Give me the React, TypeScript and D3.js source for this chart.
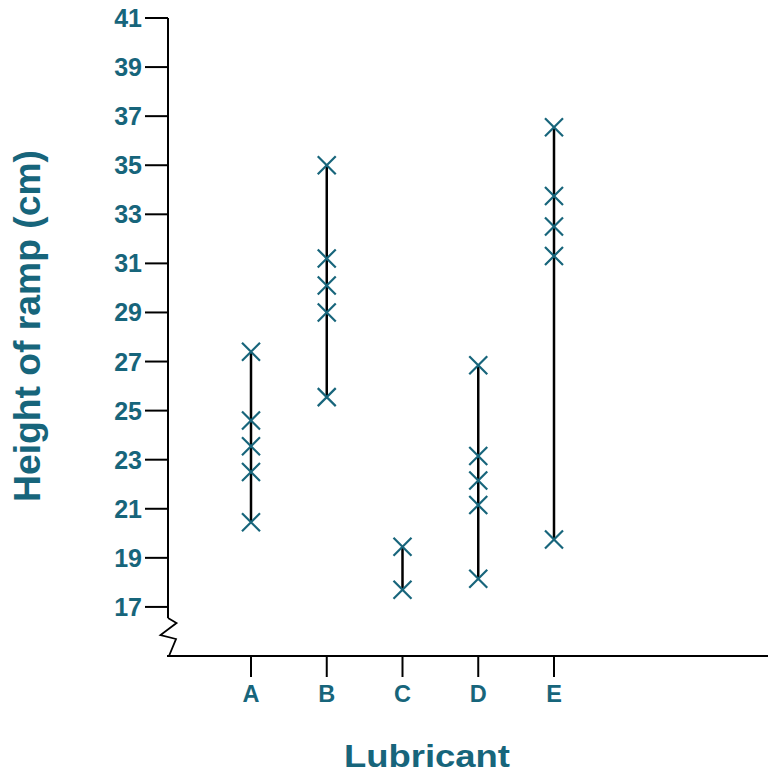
import React from "react";
import * as d3 from "d3";

const categories: string[] = ["A", "B", "C", "D", "E"];
const valuesA: number[] = [27.4, 24.6, 23.55, 22.5, 20.45];
const valuesB: number[] = [35.0, 31.2, 30.1, 29.0, 25.55];
const valuesC: number[] = [19.45, 17.7];
const valuesD: number[] = [26.85, 23.15, 22.15, 21.15, 18.15];
const valuesE: number[] = [36.55, 33.75, 32.5, 31.3, 19.75];
const seriesValues: number[][] = [valuesA, valuesB, valuesC, valuesD, valuesE];
const yTicks: number[] = [17, 19, 21, 23, 25, 27, 29, 31, 33, 35, 37, 39, 41];
const yTitle = "Height of ramp (cm)";
const xTitle = "Lubricant";

const W = 768;
const H = 775;
const TEAL = "#17657b";
const FONT = "'Liberation Sans', Arial, sans-serif";

export default function App() {
  const axisX = 168;
  const axisY = 656;
  const y = d3.scaleLinear().domain([15, 41]).range([axisY, 18]);
  const x = d3.scalePoint<string>().domain(categories).range([251, 554]);
  const ms = 9;
  const breakTop = 618;

  const zig = d3.line()([
    [axisX, breakTop],
    [axisX + 8.5, breakTop + 5],
    [axisX - 7.5, breakTop + 17],
    [axisX + 8, breakTop + 21],
    [axisX + 1, axisY],
  ]);

  return (
    <svg
      width={W}
      height={H}
      style={{ position: "absolute", left: 0, top: 0, background: "#fff" }}
      fontFamily={FONT}
    >
      {/* y axis */}
      <line x1={axisX} x2={axisX} y1={y(41)} y2={breakTop} stroke="#000" strokeWidth={2} />
      <path d={zig ?? ""} fill="none" stroke="#000" strokeWidth={1.8} strokeLinejoin="miter" />
      {yTicks.map((t) => (
        <g key={t}>
          <line x1={axisX - 23} x2={axisX} y1={y(t)} y2={y(t)} stroke="#000" strokeWidth={2} />
          <text
            x={142}
            y={y(t)}
            dy="0.36em"
            textAnchor="end"
            fontSize={25}
            fontWeight="bold"
            fill={TEAL}
          >
            {t}
          </text>
        </g>
      ))}
      {/* x axis */}
      <line x1={axisX - 1} x2={W} y1={axisY} y2={axisY} stroke="#000" strokeWidth={2} />
      {categories.map((c) => (
        <g key={c}>
          <line x1={x(c)} x2={x(c)} y1={axisY} y2={axisY + 21} stroke="#000" strokeWidth={2} />
          <text
            x={x(c)}
            y={701.5}
            textAnchor="middle"
            fontSize={23.5}
            fontWeight="bold"
            fill={TEAL}
          >
            {c}
          </text>
        </g>
      ))}
      {/* data */}
      {categories.map((c, i) => {
        const vals = seriesValues[i];
        const cx = x(c) as number;
        const lo = d3.min(vals) as number;
        const hi = d3.max(vals) as number;
        return (
          <g key={c}>
            <line x1={cx} x2={cx} y1={y(lo)} y2={y(hi)} stroke="#000" strokeWidth={2.5} />
            {vals.map((v, j) => (
              <path
                key={j}
                d={`M${cx - ms},${y(v) - ms}L${cx + ms},${y(v) + ms}M${cx - ms},${y(v) + ms}L${cx + ms},${y(v) - ms}`}
                stroke={TEAL}
                strokeWidth={2.2}
                fill="none"
              />
            ))}
          </g>
        );
      })}
      {/* titles */}
      <text
        transform={`translate(27,${326}) rotate(-90)`}
        textAnchor="middle"
        dominantBaseline="central"
        fontSize={37}
        fontWeight="bold"
        fill={TEAL}
        textLength={352}
        lengthAdjust="spacingAndGlyphs"
      >
        {yTitle}
      </text>
      <text
        x={427}
        y={767}
        textAnchor="middle"
        fontSize={31}
        fontWeight="bold"
        fill={TEAL}
        textLength={166}
        lengthAdjust="spacingAndGlyphs"
      >
        {xTitle}
      </text>
    </svg>
  );
}
